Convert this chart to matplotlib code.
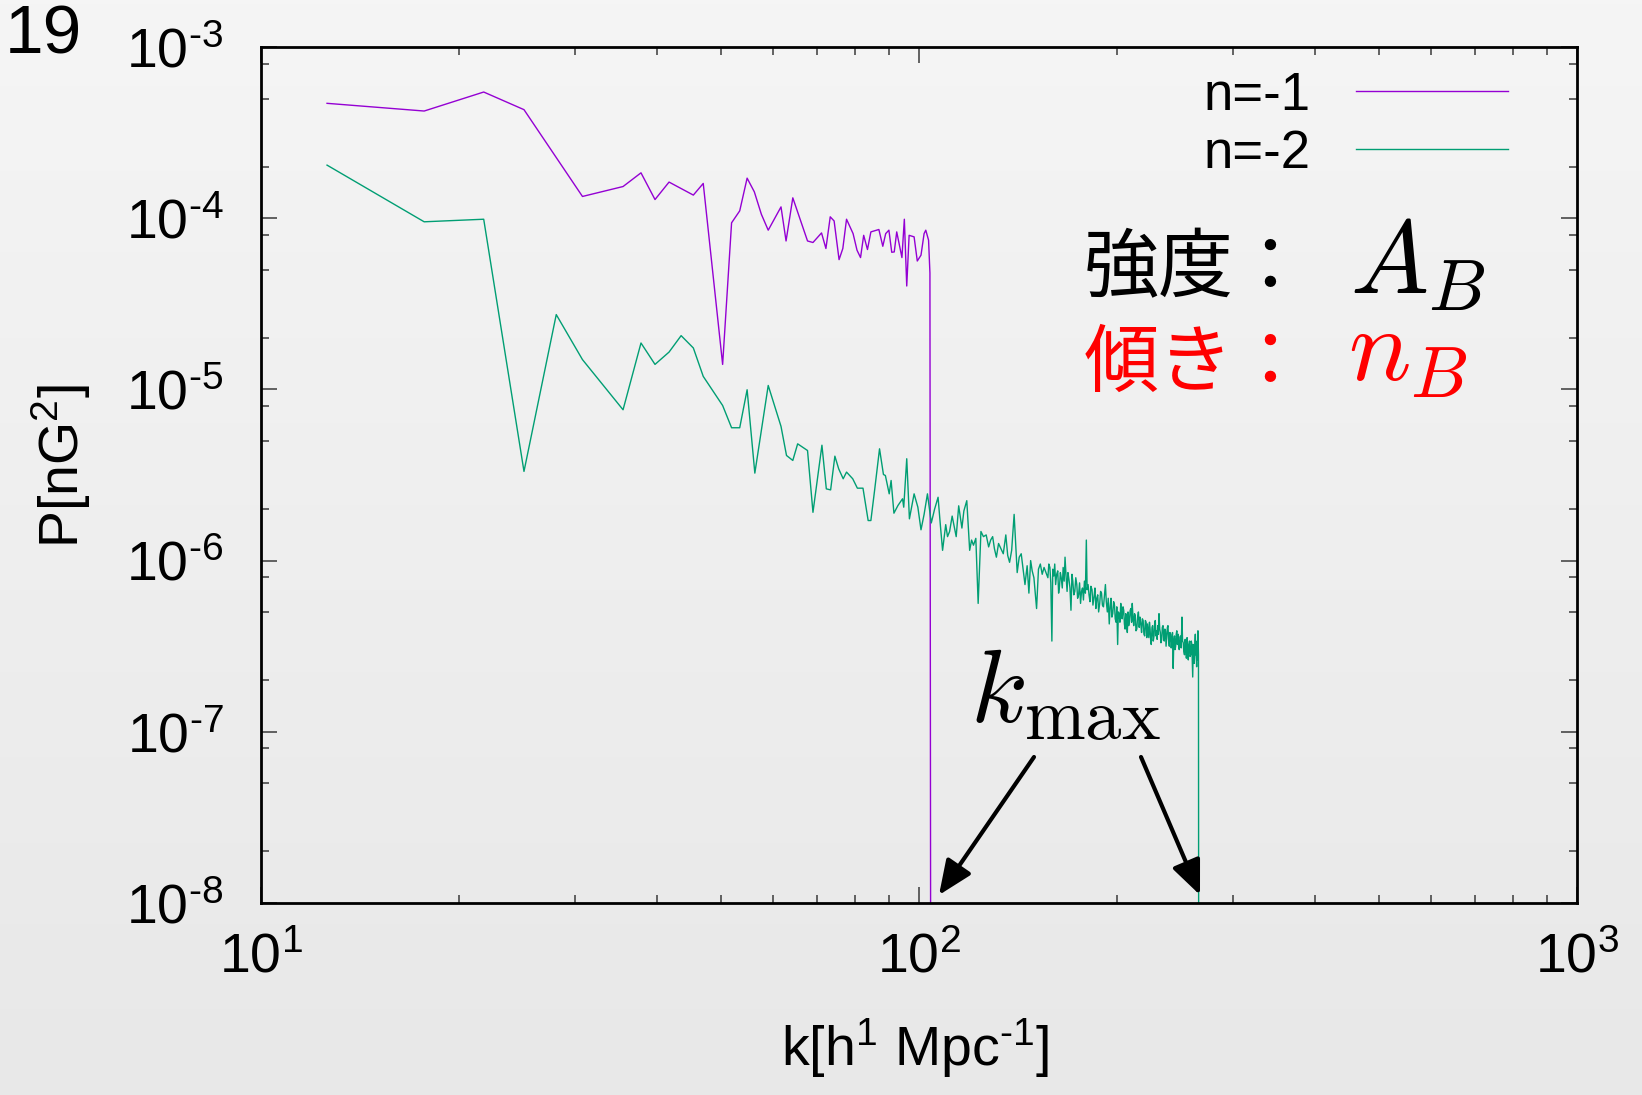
import numpy as np
import matplotlib
matplotlib.use("Agg")
import matplotlib.pyplot as plt
from matplotlib.ticker import LogLocator, NullFormatter
from matplotlib.colors import LinearSegmentedColormap

plt.rcParams['font.family'] = ['Liberation Sans', 'DejaVu Sans']
plt.rcParams['mathtext.fontset'] = 'custom'
plt.rcParams['mathtext.rm'] = 'Liberation Sans'
plt.rcParams['mathtext.it'] = 'Liberation Sans:italic'
plt.rcParams['mathtext.bf'] = 'Liberation Sans:bold'

# ---------------- data ----------------
series_labels = ["n=-1", "n=-2"]

k_n1 = [12.6, 17.7, 21.8, 25.1, 30.8, 35.5, 37.8, 39.7, 41.7, 45.4,
        47.0, 50.3, 51.9, 53.4, 54.8, 56.2, 57.6, 59.0, 61.7, 62.8,
        64.3, 67.7, 69.0, 71.1, 72.2, 73.3, 74.3, 75.6, 76.6, 77.6,
        79.4, 80.5, 81.5, 82.4, 83.5, 84.5, 86.9, 88.1, 89.0, 90.0,
        90.9, 91.7, 92.5, 94.2, 95.0, 95.8, 96.6, 98.3, 99.4, 100.7,
        101.8, 102.4, 103.4, 103.9, 104.4]
log10P_n1 = [-3.329, -3.374, -3.263, -3.366, -3.873, -3.815, -3.735, -3.891, -3.789, -3.865,
             -3.797, -4.854, -4.027, -3.957, -3.766, -3.846, -3.977, -4.070, -3.934, -4.133,
             -3.881, -4.133, -4.142, -4.086, -4.177, -3.992, -4.016, -4.242, -4.177, -4.006,
             -4.090, -4.187, -4.230, -4.100, -4.183, -4.080, -4.066, -4.164, -4.090, -4.070,
             -4.199, -4.197, -4.080, -4.230, -4.006, -4.396, -4.100, -4.109, -4.250, -4.216,
             -4.090, -4.070, -4.128, -4.320, -12.0]

k_n2 = [12.6, 17.7, 21.8, 25.1, 28.1, 30.8, 35.5, 37.8, 39.7, 41.7,
        43.5, 45.4, 47.0, 50.3, 51.9, 53.4, 54.8, 56.3, 59.0, 61.7,
        62.9, 64.3, 65.4, 67.7, 69.0, 71.2, 72.3, 73.4, 74.5, 75.5,
        76.7, 77.6, 79.3, 80.6, 82.2, 83.7, 84.5, 85.6, 87.1, 88.3,
        88.9, 90.1, 90.7, 91.6, 92.9, 94.4, 94.8, 95.8, 96.7, 98.3,
        99.6, 100.7, 101.8, 103.0, 104.4, 105.6, 106.9, 107.8, 108.6, 109.8,
        110.5, 111.3, 112.3, 113.1, 113.9, 114.9, 116.2, 117.0, 118.2, 119.4,
        120.2, 121.0, 122.0, 123.0, 124.2, 125.3, 126.5, 127.6, 128.5, 129.4,
        130.2, 131.1, 132.1, 133.2, 134.3, 135.5, 136.4, 137.3, 138.3, 139.5,
        141.0, 142.0, 143.0, 144.9, 146.0, 146.9, 147.8, 148.6, 149.5, 150.9,
        151.9, 152.9, 153.9, 154.9,
        157.0, 157.5, 158.1, 158.6, 159.2, 159.7, 160.3, 160.8, 161.3, 161.9,
        162.5, 163.0, 163.5, 164.0, 164.5, 165.1, 165.6, 166.2, 166.7, 167.3,
        167.9, 168.4, 169.0, 169.6, 170.2, 170.8, 171.3, 171.9, 172.5, 173.1,
        173.7, 174.2, 174.8, 175.4, 176.0, 176.6, 177.2, 177.8, 178.4, 179.0,
        179.6, 180.1, 180.7, 181.3, 181.9, 182.5, 183.2, 183.8, 184.5, 185.1,
        185.7, 186.3, 186.9, 187.5, 188.2, 188.8, 189.4, 190.0, 190.7, 191.3,
        192.0, 192.6, 193.3, 193.9, 194.6, 195.2, 195.8, 196.4, 197.0, 197.6,
        198.2, 198.7, 199.3, 199.8, 200.4, 200.9, 201.5, 202.0, 202.6, 203.1,
        203.6, 204.2, 204.7, 205.2, 205.7, 206.2, 206.7, 207.3, 207.8, 208.3,
        208.8, 209.4, 209.9, 210.4, 210.9, 211.5, 212.0, 212.6, 213.1, 213.7,
        214.3, 214.9, 215.5, 216.1, 216.7, 217.3, 217.9, 218.5, 219.1, 219.7,
        220.3, 220.8, 221.4, 221.9, 222.5, 223.0, 223.5, 224.0, 224.5, 224.9,
        225.4, 226.0, 226.5, 227.0, 227.6, 228.1, 228.6, 229.1, 229.6, 230.1,
        230.6, 231.1, 231.6, 232.2, 232.7, 233.2, 233.8, 234.3, 234.9, 235.4,
        235.9, 236.4, 236.9, 237.4, 237.9, 238.5, 239.0, 239.5, 240.1, 240.6,
        241.2, 241.7, 242.3, 242.8, 243.4, 243.9, 244.5, 245.0, 245.5, 246.0,
        246.5, 247.0, 247.6, 248.1, 248.6, 249.2, 249.7, 250.3, 251.0, 251.5,
        252.1, 252.6, 253.2, 253.8, 254.4, 254.9, 255.5, 256.0, 256.6, 257.1,
        257.7, 258.2, 258.8, 259.3, 259.8, 260.2, 260.6, 261.1, 261.6, 262.0,
        262.3, 262.7, 263.0, 263.4, 263.8, 264.2, 264.6, 265.0, 265.4, 265.9,
        266.5]
log10P_n2 = [-3.690, -4.021, -4.006, -5.479, -4.563, -4.826, -5.119, -4.729, -4.854, -4.782,
             -4.686, -4.758, -4.924, -5.094, -5.224, -5.224, -5.002, -5.489, -4.977, -5.216,
             -5.386, -5.415, -5.318, -5.357, -5.718, -5.326, -5.581, -5.587, -5.390, -5.464,
             -5.522, -5.483, -5.522, -5.577, -5.577, -5.766, -5.766, -5.591, -5.347, -5.497,
             -5.503, -5.610, -5.532, -5.723, -5.678, -5.639, -5.688, -5.405, -5.756, -5.610,
             -5.688, -5.82, -5.73, -5.61, -5.78, -5.70, -5.63, -5.80, -5.94, -5.79,
             -5.86, -5.83, -5.74, -5.80, -5.86, -5.68, -5.81, -5.71, -5.65, -5.94,
             -5.88, -5.91, -5.87, -6.25, -5.83, -5.86, -5.85, -5.92, -5.88, -5.86,
             -5.93, -5.98, -5.90, -5.93, -5.96, -5.85, -5.97, -6.01, -5.94, -5.73,
             -6.07, -5.98, -5.96, -6.14, -6.03, -6.19, -6.00, -6.06, -6.10, -6.28,
             -6.05, -6.02, -6.08, -6.04,
             -6.10, -6.02, -6.04, -6.13, -6.47, -6.05, -6.09, -6.02, -6.14, -6.08,
             -6.06, -6.19, -6.15, -6.07, -6.10, -6.16, -6.04, -6.12, -5.98, -6.09,
             -6.18, -6.07, -6.11, -6.16, -6.29, -6.08, -6.12, -6.20, -6.18, -6.10,
             -6.14, -6.22, -6.20, -6.13, -6.25, -6.18, -6.16, -6.23, -6.12, -6.19,
             -5.88, -6.17, -6.14, -6.20, -6.24, -6.15, -6.17, -6.26, -6.21, -6.16,
             -6.28, -6.22, -6.20, -6.30, -6.25, -6.18, -6.19, -6.26, -6.27, -6.21,
             -6.14, -6.24, -6.30, -6.22, -6.37, -6.27, -6.22, -6.33, -6.31, -6.24,
             -6.26, -6.34, -6.36, -6.27, -6.49, -6.30, -6.31, -6.36, -6.25, -6.32,
             -6.34, -6.27, -6.29, -6.37, -6.40, -6.31, -6.37, -6.42, -6.30, -6.38,
             -6.35, -6.29, -6.28, -6.36, -6.25, -6.34, -6.38, -6.31, -6.32, -6.41,
             -6.40, -6.33, -6.30, -6.39, -6.33, -6.37, -6.42, -6.34, -6.35, -6.43,
             -6.44, -6.35, -6.36, -6.45, -6.37, -6.41, -6.45, -6.36, -6.40, -6.46,
             -6.49, -6.39, -6.38, -6.47, -6.44, -6.37, -6.35, -6.44, -6.41, -6.46,
             -6.38, -6.43, -6.31, -6.40, -6.42, -6.48, -6.46, -6.39, -6.38, -6.45,
             -6.47, -6.40, -6.41, -6.50, -6.45, -6.39, -6.38, -6.46, -6.50, -6.42,
             -6.43, -6.51, -6.47, -6.42, -6.63, -6.47, -6.44, -6.52, -6.50, -6.43,
             -6.41, -6.49, -6.43, -6.50, -6.52, -6.45, -6.44, -6.51, -6.33, -6.47,
             -6.48, -6.53, -6.55, -6.46, -6.51, -6.57, -6.45, -6.52, -6.58, -6.49,
             -6.47, -6.56, -6.55, -6.47, -6.49, -6.58, -6.68, -6.49, -6.50, -6.60,
             -6.56, -6.47, -6.43, -6.55, -6.53, -6.62, -6.47, -6.58, -6.41, -6.55,
             -12.0]

x_ticks = [10, 100, 1000]
x_tick_labels = [r'10$^{1}$', r'10$^{2}$', r'10$^{3}$']
y_ticks = [1e-8, 1e-7, 1e-6, 1e-5, 1e-4, 1e-3]
y_tick_labels = [r'10$^{\text{-8}}$', r'10$^{\text{-7}}$', r'10$^{\text{-6}}$',
                 r'10$^{\text{-5}}$', r'10$^{\text{-4}}$', r'10$^{\text{-3}}$']
x_label = r'k[h$^{1}$ Mpc$^{\text{-1}}$]'
y_label = r'P[nG$^{2}$]'

assert len(k_n1) == len(log10P_n1)
assert len(k_n2) == len(log10P_n2)

P_n1 = np.power(10.0, np.array(log10P_n1))
P_n2 = np.power(10.0, np.array(log10P_n2))

PURPLE = '#9400d3'
GREEN = '#009e73'

# ---------------- figure ----------------
W, H = 1642, 1095
fig = plt.figure(figsize=(W / 100, H / 100), dpi=100)

bg = fig.add_axes([0, 0, 1, 1], zorder=-10)
grad = np.linspace(0, 1, 256).reshape(-1, 1)
bg.imshow(grad, aspect='auto', extent=[0, 1, 0, 1],
          cmap=LinearSegmentedColormap.from_list('bgg', ['#f5f5f5', '#e8e8e8']))
bg.axis('off')

L, R, T, B = 261, 1577, 47, 903
ax = fig.add_axes([L / W, 1 - B / H, (R - L) / W, (B - T) / H])
ax.patch.set_alpha(0)

ax.plot(k_n1, P_n1, color=PURPLE, lw=1.0)
ax.plot(k_n2, P_n2, color=GREEN, lw=1.0)

ax.set_xscale('log')
ax.set_yscale('log')
ax.set_xlim(10, 1000)
ax.set_ylim(1e-8, 1e-3)

ax.set_xticks(x_ticks)
ax.set_xticklabels(x_tick_labels)
ax.set_yticks(y_ticks)
ax.set_yticklabels(y_tick_labels)
ax.xaxis.set_minor_locator(LogLocator(base=10, subs=(2, 3, 4, 5, 6, 7, 8, 9)))
ax.yaxis.set_minor_locator(LogLocator(base=10, subs=(2, 5, 8)))
ax.xaxis.set_minor_formatter(NullFormatter())
ax.yaxis.set_minor_formatter(NullFormatter())

ax.tick_params(which='both', direction='in', top=True, right=True,
               color='#3a3a3a', width=1.1)
ax.tick_params(which='major', length=11.5, labelsize=40)
ax.tick_params(which='minor', length=5.8)
ax.tick_params(axis='x', which='major', pad=21)
ax.tick_params(axis='y', which='major', pad=27)
for s in ax.spines.values():
    s.set_linewidth(2.0)
    s.set_color('black')

ax.set_xlabel(x_label, fontsize=40)
ax.set_ylabel(y_label, fontsize=40)
ax.xaxis.set_label_coords((915 - L) / (R - L), (B - 1016) / (B - T))
ax.yaxis.set_label_coords((93 - L) / (R - L), (B - 466) / (B - T))

# legend (drawn manually, sample line to the right of the text)
leg_y = [(B - 91) / (B - T), (B - 149) / (B - T)]
for lab, col, yy in zip(series_labels, [PURPLE, GREEN], leg_y):
    ax.plot([(1356 - L) / (R - L), (1508 - L) / (R - L)], [yy, yy],
            transform=ax.transAxes, color=col, lw=1.0)
    ax.text((1311 - L) / (R - L), yy, lab, transform=ax.transAxes,
            ha='right', va='center_baseline', fontsize=38)

# page number
fig.text(5 / W, 1 - 53 / H, '19', fontsize=50, ha='left', va='baseline')

# annotations
cjk = ['Noto Sans CJK JP', 'DejaVu Sans']
fig.text(1084 / W, 1 - 270 / H, '強度：', fontsize=54, family=cjk,
         ha='left', va='center')
fig.text(1350 / W, 1 - 293 / H, r'$A_B$', fontsize=75, math_fontfamily='cm',
         ha='left', va='baseline')
fig.text(1084 / W, 1 - 364 / H, '傾き：', fontsize=54, family=cjk, color='#ff0000',
         ha='left', va='center')
fig.text(1348 / W, 1 - 380 / H, r'$n_B$', fontsize=75, math_fontfamily='cm',
         color='#ff0000', ha='left', va='baseline')
fig.text(970 / W, 1 - 723 / H, r'$k_{\rm max}$', fontsize=75, math_fontfamily='cm',
         ha='left', va='baseline')

arrow_props = dict(arrowstyle='-|>,head_length=0.7,head_width=0.3', lw=3,
                   color='black', shrinkA=0, shrinkB=0, mutation_scale=30)
ax.annotate('', xy=((939 - L) / (R - L), (B - 895) / (B - T)),
            xytext=((1034 - L) / (R - L), (B - 757) / (B - T)),
            xycoords='axes fraction', textcoords='axes fraction',
            arrowprops=arrow_props)
ax.annotate('', xy=((1200 - L) / (R - L), (B - 895) / (B - T)),
            xytext=((1141 - L) / (R - L), (B - 757) / (B - T)),
            xycoords='axes fraction', textcoords='axes fraction',
            arrowprops=arrow_props)

fig.savefig('out.png', dpi=100)
